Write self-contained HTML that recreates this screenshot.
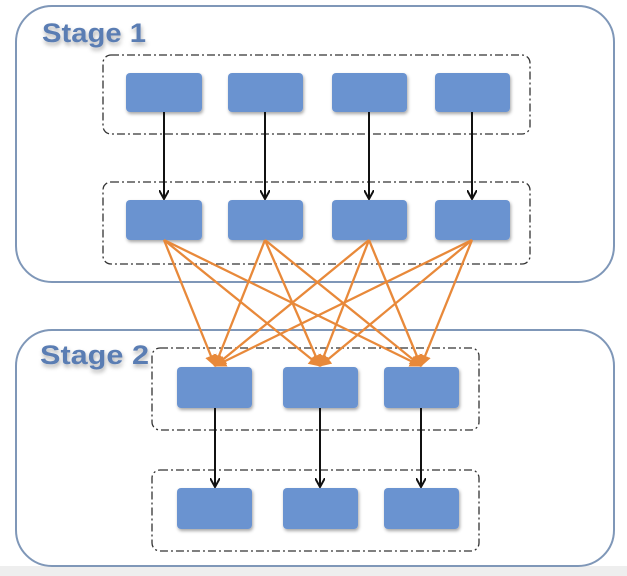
<!DOCTYPE html><html><head><style>body{margin:0;background:#fff;}svg{display:block}</style></head><body>
<svg width="627" height="576" viewBox="0 0 627 576" xmlns="http://www.w3.org/2000/svg">
<defs>
<filter id="sh" x="-20%" y="-20%" width="150%" height="160%"><feDropShadow dx="1" dy="2" stdDeviation="1.5" flood-color="#000" flood-opacity="0.35"/></filter>
<filter id="ts" x="-10%" y="-30%" width="130%" height="170%"><feDropShadow dx="1" dy="3" stdDeviation="2" flood-color="#000" flood-opacity="0.3"/></filter>
<marker id="ab" markerWidth="10" markerHeight="10" refX="8" refY="5" orient="auto" markerUnits="userSpaceOnUse"><path d="M0,0 L9,5 L0,10" fill="none" stroke="#111" stroke-width="2"/></marker>
<marker id="ao" markerWidth="14" markerHeight="12" refX="11" refY="6" orient="auto" markerUnits="userSpaceOnUse"><path d="M0,0 L12,6 L0,12 Z" fill="#e8893a"/></marker>
</defs>
<rect x="0" y="566" width="627" height="10" fill="#eeeeee"/>
<rect x="16" y="6" width="598" height="276" rx="36" fill="#fff" stroke="#7f97b8" stroke-width="2"/>
<rect x="16" y="330" width="598" height="236" rx="36" fill="#fff" stroke="#7f97b8" stroke-width="2"/>
<g font-family="Liberation Sans, sans-serif" font-size="27" font-weight="bold" fill="#5a7db3" filter="url(#ts)">
<text x="42" y="42" textLength="104" lengthAdjust="spacingAndGlyphs">Stage 1</text><text x="40" y="364" textLength="109" lengthAdjust="spacingAndGlyphs">Stage 2</text></g>
<g fill="none" stroke="#333" stroke-width="1.3" stroke-dasharray="8,3,2,3">
<rect x="103" y="55" width="427" height="79" rx="8"/>
<rect x="103" y="182" width="427" height="82" rx="8"/>
<rect x="152" y="348" width="327" height="82" rx="8"/>
<rect x="152" y="470" width="327" height="81" rx="8"/>
</g>
<g fill="#6b93d0" filter="url(#sh)">
<rect x="126" y="73" width="76" height="39" rx="4"/><rect x="228" y="73" width="75" height="39" rx="4"/><rect x="332" y="73" width="75" height="39" rx="4"/><rect x="435" y="73" width="75" height="39" rx="4"/>
<rect x="126" y="200" width="76" height="40" rx="4"/><rect x="228" y="200" width="75" height="40" rx="4"/><rect x="332" y="200" width="75" height="40" rx="4"/><rect x="435" y="200" width="75" height="40" rx="4"/>
<rect x="177" y="367" width="75" height="41" rx="4"/><rect x="283" y="367" width="75" height="41" rx="4"/><rect x="384" y="367" width="75" height="41" rx="4"/>
<rect x="177" y="488" width="75" height="41" rx="4"/><rect x="283" y="488" width="75" height="41" rx="4"/><rect x="384" y="488" width="75" height="41" rx="4"/>
</g>
<g stroke="#111" stroke-width="2" marker-end="url(#ab)">
<line x1="164" y1="112" x2="164" y2="198"/><line x1="265" y1="112" x2="265" y2="198"/><line x1="369" y1="112" x2="369" y2="198"/><line x1="472" y1="112" x2="472" y2="198"/>
<line x1="215" y1="408" x2="215" y2="486"/><line x1="320" y1="408" x2="320" y2="486"/><line x1="421" y1="408" x2="421" y2="486"/>
</g>
<g stroke="#e8893a" stroke-width="2.3" marker-end="url(#ao)">
<line x1="164" y1="240" x2="215" y2="366"/><line x1="164" y1="240" x2="320" y2="366"/><line x1="164" y1="240" x2="421" y2="366"/>
<line x1="265" y1="240" x2="215" y2="366"/><line x1="265" y1="240" x2="320" y2="366"/><line x1="265" y1="240" x2="421" y2="366"/>
<line x1="369" y1="240" x2="215" y2="366"/><line x1="369" y1="240" x2="320" y2="366"/><line x1="369" y1="240" x2="421" y2="366"/>
<line x1="472" y1="240" x2="215" y2="366"/><line x1="472" y1="240" x2="320" y2="366"/><line x1="472" y1="240" x2="421" y2="366"/>
</g>
</svg>
</body></html>
